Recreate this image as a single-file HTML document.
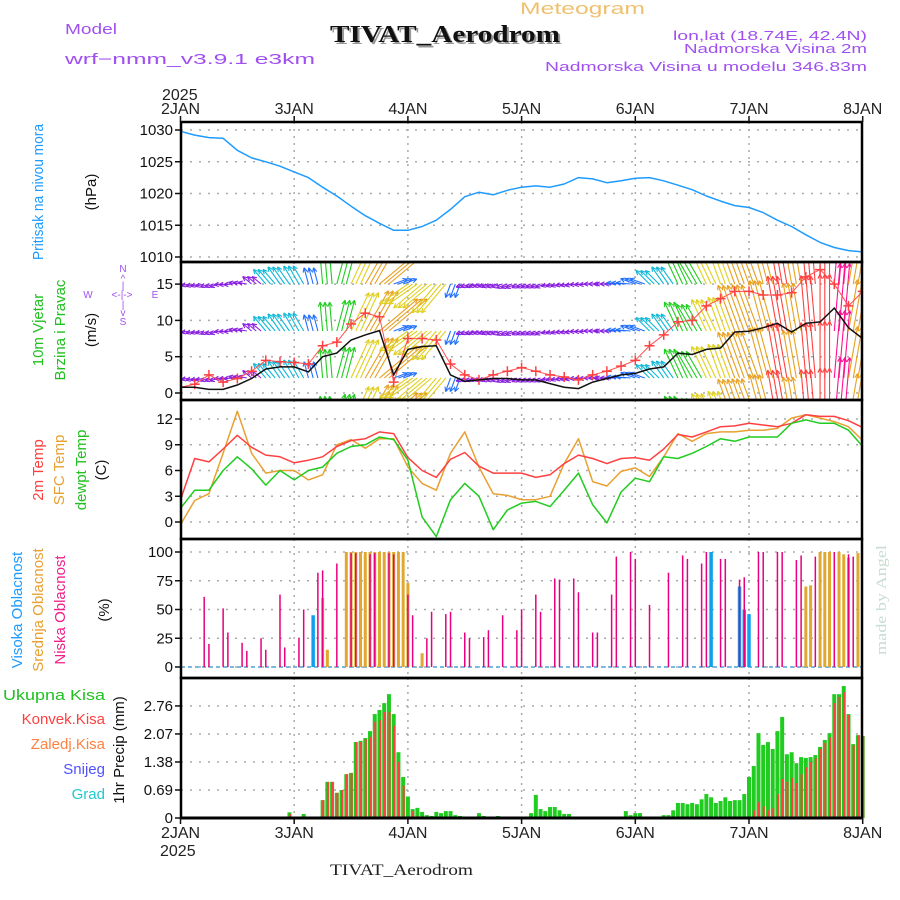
<!DOCTYPE html>
<html><head><meta charset="utf-8"><title>Meteogram TIVAT_Aerodrom</title>
<style>
html,body{margin:0;padding:0;background:#fff;}
svg{display:block;font-family:"Liberation Sans",sans-serif;}
.tk{font-size:15px;fill:#111;}
.tl{font-size:15px;}
</style></head>
<body>
<svg id="chart" width="900" height="900" viewBox="0 0 900 900" xmlns="http://www.w3.org/2000/svg">
<defs>
<clipPath id="clipP2"><rect x="181" y="262" width="681" height="138"/></clipPath>
</defs>
<rect x="0" y="0" width="900" height="900" fill="#fff"/>
<text x="520" y="14" font-size="17" fill="#f0c070" textLength="125" lengthAdjust="spacingAndGlyphs">Meteogram</text>
<text x="332" y="44" font-family="Liberation Serif, serif" font-weight="bold" font-size="24" fill="#999" textLength="230" lengthAdjust="spacingAndGlyphs">TIVAT_Aerodrom</text>
<text x="330" y="42" font-family="Liberation Serif, serif" font-weight="bold" font-size="24" fill="#111" textLength="230" lengthAdjust="spacingAndGlyphs">TIVAT_Aerodrom</text>
<text x="65" y="34" font-size="15" fill="#a050f0" textLength="52" lengthAdjust="spacingAndGlyphs">Model</text>
<text x="65" y="64" font-size="15" fill="#a050f0" textLength="250" lengthAdjust="spacingAndGlyphs">wrf−nmm_v3.9.1  e3km</text>
<text x="867" y="40" font-size="13" fill="#a050f0" text-anchor="end" textLength="194" lengthAdjust="spacingAndGlyphs">lon,lat (18.74E, 42.4N)</text>
<text x="867" y="53" font-size="13" fill="#a050f0" text-anchor="end" textLength="183" lengthAdjust="spacingAndGlyphs">Nadmorska Visina 2m</text>
<text x="867" y="71" font-size="13" fill="#a050f0" text-anchor="end" textLength="322" lengthAdjust="spacingAndGlyphs">Nadmorska Visina u modelu 346.83m</text>
<text x="330" y="875" font-family="Liberation Serif, serif" font-size="16" fill="#222" textLength="143" lengthAdjust="spacingAndGlyphs">TIVAT_Aerodrom</text>
<text transform="translate(886,655) rotate(-90)" font-family="Liberation Serif, serif" font-size="15" fill="#c8dcd0" textLength="110" lengthAdjust="spacingAndGlyphs">made by Angel</text>

<text transform="translate(43,192) rotate(-90)" text-anchor="middle" class="tl" fill="#1e9bff" textLength="136" lengthAdjust="spacingAndGlyphs">Pritisak na nivou mora</text>
<text transform="translate(96,192) rotate(-90)" text-anchor="middle" class="tl" fill="#111">(hPa)</text>
<text transform="translate(43,330) rotate(-90)" text-anchor="middle" class="tl" fill="#20c020">10m Vjetar</text>
<text transform="translate(65,330) rotate(-90)" text-anchor="middle" class="tl" fill="#20c020">Brzina i Pravac</text>
<text transform="translate(96,330) rotate(-90)" text-anchor="middle" class="tl" fill="#111">(m/s)</text>
<g font-size="10" fill="#a050f0" text-anchor="middle">
<text x="123" y="272">N</text><text x="123" y="282">^</text><text x="123" y="289">|</text>
<text x="88" y="298">W</text><text x="122" y="298">&lt;-|-&gt;</text><text x="155" y="298">E</text>
<text x="123" y="308">|</text><text x="123" y="316">v</text><text x="123" y="325">S</text>
</g>
<text transform="translate(43,470) rotate(-90)" text-anchor="middle" class="tl" fill="#ff4040">2m Temp</text>
<text transform="translate(64,470) rotate(-90)" text-anchor="middle" class="tl" fill="#e8a030">SFC Temp</text>
<text transform="translate(86,470) rotate(-90)" text-anchor="middle" class="tl" fill="#20c020">dewpt Temp</text>
<text transform="translate(106,470) rotate(-90)" text-anchor="middle" class="tl" fill="#111">(C)</text>
<text transform="translate(22,610) rotate(-90)" text-anchor="middle" class="tl" fill="#1e9bff">Visoka Oblacnost</text>
<text transform="translate(43,610) rotate(-90)" text-anchor="middle" class="tl" fill="#e8a030">Srednja Oblacnost</text>
<text transform="translate(65,610) rotate(-90)" text-anchor="middle" class="tl" fill="#f0208a">Niska Oblacnost</text>
<text transform="translate(109,610) rotate(-90)" text-anchor="middle" class="tl" fill="#111">(%)</text>
<g font-size="15" text-anchor="end">
<text x="105" y="700" fill="#20c020" textLength="102" lengthAdjust="spacingAndGlyphs">Ukupna  Kisa</text>
<text x="105" y="724" fill="#ff4040">Konvek.Kisa</text>
<text x="105" y="749" fill="#ff8040">Zaledj.Kisa</text>
<text x="105" y="774" fill="#5050ff">Snijeg</text>
<text x="105" y="799" fill="#20c8d0">Grad</text>
</g>
<text transform="translate(124,750) rotate(-90)" text-anchor="middle" class="tl" fill="#111">1hr Precip (mm)</text>
<text x="162" y="100" font-size="16" fill="#222">2025</text>
<text x="160" y="856" font-size="16" fill="#222">2025</text>
<g id="grid"></g>
<g id="marks"></g>
<g id="frames"></g>
</svg>
<script>
const hours = [0,3,6,9,12,15,18,21,24,27,30,33,36,39,42,45,48,51,54,57,60,63,66,69,72,75,78,81,84,87,90,93,96,99,102,105,108,111,114,117,120,123,126,129,132,135,138,141,144];
const pressure = [1029.8,1029.2,1028.8,1028.7,1026.8,1025.6,1025.0,1024.3,1023.4,1022.5,1021.0,1019.6,1018.0,1016.5,1015.3,1014.2,1014.2,1014.8,1015.8,1017.5,1019.5,1020.2,1019.8,1020.5,1021.0,1021.2,1021.0,1021.5,1022.5,1022.3,1021.7,1022.0,1022.4,1022.5,1022.0,1021.3,1020.6,1019.6,1018.8,1018.1,1017.8,1017.0,1015.8,1014.8,1013.5,1012.3,1011.5,1011.0,1010.8];
const windSpeed = [0.8,0.8,0.5,0.5,1.1,2.0,3.3,3.6,3.6,2.9,5.0,5.5,7.3,8.0,8.6,2.5,6.0,6.4,6.5,2.5,1.6,1.8,2.0,2.0,1.8,1.8,1.3,0.8,0.6,1.5,2.0,2.5,2.7,3.3,3.6,5.5,5.3,6.0,6.2,8.4,8.5,9.0,9.6,8.4,9.6,9.8,11.7,9.0,7.5];
const windGust = [0.8,1.2,2.5,1.5,2.0,3.0,4.5,4.3,4.2,4.0,6.5,7.0,9.5,11.0,10.5,1.5,7.5,7.5,7.3,4.0,2.5,1.8,2.5,3.0,3.5,3.0,2.5,2.2,1.8,2.5,3.0,3.7,4.5,6.5,8.0,9.8,10.0,12.0,13.0,14.0,14.0,13.5,13.5,13.8,16.0,17.0,15.0,12.0,14.0];
const windDir = [190,195,200,185,170,140,130,125,120,105,95,75,65,60,40,20,215,220,230,250,200,195,195,200,200,200,195,190,185,180,180,175,160,135,125,115,120,115,110,110,110,105,100,100,95,90,85,80,75];
const temp2m = [2.6,7.4,7.0,8.5,10.1,8.7,7.8,7.6,6.9,7.2,7.6,8.8,9.5,9.7,10.5,10.3,7.5,6.0,5.2,7.3,8.1,6.5,5.7,5.7,5.7,5.2,5.5,6.8,7.8,7.4,6.8,7.4,7.5,7.2,8.5,10.2,9.9,10.5,11.1,11.2,11.5,11.3,11.1,11.5,12.5,12.3,12.3,11.8,11.0];
const tempSfc = [-0.3,2.5,3.3,8.0,12.9,8.0,5.7,6.0,6.0,4.9,5.5,9.0,9.6,8.6,9.7,9.7,6.4,4.5,3.7,8.0,10.5,6.4,3.3,3.1,2.6,2.6,3.0,6.8,9.7,4.7,4.2,5.9,6.3,5.3,7.6,10.3,9.4,10.3,10.5,10.5,10.7,10.7,10.9,12.1,12.5,12.1,11.7,11.1,9.5];
const dewpt = [1.6,3.7,3.7,6.0,7.6,6.2,4.3,6.0,4.9,6.0,6.4,8.0,8.8,9.0,9.9,9.6,7.2,0.6,-1.7,2.6,4.5,3.0,-0.9,1.4,2.2,2.4,1.8,3.7,5.7,2.0,-0.1,3.5,5.1,4.7,7.6,7.4,8.0,8.8,9.7,9.4,9.9,9.9,9.9,11.5,11.9,11.5,11.5,10.7,8.8];
const lowCloudHours = [5,6,9,10,13,14,17,18,21,22,25,26,29,30,33,36,37,40,41,44,45,48,49,52,53,56,57,60,61,64,65,68,71,72,75,76,79,80,83,84,87,88,91,92,95,96,99,103,106,107,110,111,114,115,118,119,122,123,126,127,130,131,134,138,141,142];
const lowCloudVals = [61,20,51,30,21,14,25,15,63,17,25,50,82,84,90,99,99,98,99,99,98,63,45,25,48,46,48,30,25,26,32,45,32,50,63,48,77,76,77,65,30,30,63,96,100,94,54,82,97,94,90,100,94,94,76,78,100,100,100,100,93,97,96,100,98,96];
const midCloudHours = [30,31,35,36,37,38,39,40,41,42,43,44,45,46,47,48,51,132,133,135,136,137,139,140,141,143];
const midCloudVals = [60,15,100,100,100,100,100,100,100,100,100,100,100,100,100,73,12,70,71,100,100,100,100,98,95,99];
const highCloudHours = [28,112,118,119,120];
const highCloudVals = [45,100,70,50,46];
const precipHours = [23,26,30,31,32,33,34,35,36,37,38,39,40,41,42,43,44,45,46,47,48,49,50,51,52,53,54,55,56,57,58,59,63,64,67,74,75,76,77,78,79,80,81,82,94,95,96,97,102,103,104,105,106,107,108,109,110,111,112,113,114,115,116,117,118,119,120,121,122,123,124,125,126,127,128,129,130,131,132,133,134,135,136,137,138,139,140,141,142,143,144];
const precipTotal = [0.14,0.1,0.44,0.89,0.89,0.62,0.69,1.08,1.11,1.87,1.9,1.97,2.14,2.56,2.66,2.83,3.05,2.56,1.62,1.01,0.53,0.22,0.25,0.15,0.07,0.05,0.15,0.12,0.17,0.17,0.07,0.05,0.12,0.05,0.05,0.12,0.57,0.22,0.17,0.27,0.27,0.19,0.1,0.1,0.17,0.07,0.12,0.12,0.07,0.07,0.19,0.37,0.37,0.34,0.37,0.34,0.46,0.59,0.51,0.37,0.42,0.51,0.42,0.44,0.44,0.59,1.01,1.28,2.09,1.8,1.87,1.7,2.14,2.49,1.57,1.62,1.35,1.5,1.48,1.5,1.55,1.75,1.92,2.09,3.05,3.05,3.25,2.56,1.82,2.04,2.02];
const precipConv = [0.1,0,0.44,0.89,0.89,0.62,0.69,1.08,1.11,1.87,1.87,1.94,2.0,2.37,2.41,2.61,2.61,2.27,1.38,0.8,0,0.17,0.05,0,0,0,0,0,0,0,0,0,0,0,0,0,0,0,0,0,0,0,0,0,0,0,0,0,0,0,0,0,0,0,0,0,0,0,0,0,0,0,0,0,0,0,0,0.19,0.39,0.29,0.19,0.24,0.59,0.96,0.89,0.99,0.86,1.08,1.25,1.38,1.48,1.7,1.85,1.99,2.83,2.98,3.1,2.54,1.8,2.04,2.02];
const dayLabels = ["2JAN","3JAN","4JAN","5JAN","6JAN","7JAN","8JAN"];
const pTicks = [1010,1015,1020,1025,1030];
const wTicks = [0,5,10,15];
const tTicks = [0,3,6,9,12];
const cTicks = [0,25,50,75,100];
const rTicks = [0,0.69,1.38,2.07,2.76];

const X0 = 181, X1 = 862;
const xs = h => 180.5 + h * 113.7 / 24;
const yP = v => 130 + (1030 - v) * 6.35;
const yW = v => 393 - v * 7.26;
const yT = v => 522 - v * 8.583;
const yC = v => 667 - v * 1.15;
const yR = v => 818 - v * 40.6;
const panels = [[122,262,pTicks,yP,'pressure'],[262,400,wTicks,yW,'wind'],[400,539,tTicks,yT,'temp'],[539,678,cTicks,yC,'cloud'],[678,818,rTicks,yR,'precip']];

const NS = 'http://www.w3.org/2000/svg';
function mk(tag, attrs, parent){ const e=document.createElementNS(NS,tag); for(const k in attrs) e.setAttribute(k,attrs[k]); parent.appendChild(e); return e; }
const grid = document.getElementById('grid'), marks = document.getElementById('marks'), frames = document.getElementById('frames');

panels.forEach(([top,bot,ticks,ys,nm])=>{
  for(let d=1; d<6; d++){
    const l = mk('line',{x1:xs(d*24),x2:xs(d*24),y1:top,y2:bot,stroke:'#aaa','stroke-width':1.5,'stroke-dasharray':'2,5'},grid);
    
    
  }
  ticks.forEach(t=>{
    const y = ys(t);
    const g = mk('line',{x1:X0,x2:X1,y1:y,y2:y,stroke:'#aaa','stroke-width':1.5,'stroke-dasharray':'2,7'},grid);
    
    
    mk('line',{x1:X0-6,x2:X0,y1:y,y2:y,stroke:'#111','stroke-width':1.5},frames);
    const tx = mk('text',{x:X0-8,y:y+5,'text-anchor':'end',class:'tk'},frames);
    tx.textContent = String(t);
    
    
  });
  const r = mk('rect',{x:X0,y:top,width:X1-X0,height:bot-top,fill:'none',stroke:'#000','stroke-width':2.5},frames);
  
  
});
dayLabels.forEach((lb,i)=>{
  const x = xs(i*24);
  const t1 = mk('text',{x:x,y:114,'text-anchor':'middle','font-size':16,fill:'#222'},frames);
  t1.textContent = lb;
  
  
  const t2 = mk('text',{x:x,y:838,'text-anchor':'middle','font-size':16,fill:'#222'},frames);
  t2.textContent = lb;
  
  
  mk('line',{x1:x,x2:x,y1:818,y2:824,stroke:'#111','stroke-width':1.5},frames);
  mk('line',{x1:x,x2:x,y1:116,y2:122,stroke:'#111','stroke-width':1.5},frames);
});

function poly(vals, ys, color, name, w){
  const pts = hours.map((h,i)=> xs(h).toFixed(1)+','+ys(vals[i]).toFixed(1)).join(' ');
  const p = mk('polyline',{points:pts,fill:'none',stroke:color,'stroke-width':w||1.5,'stroke-linejoin':'round'},marks);
  
  
  return p;
}
poly(pressure, yP, '#1e9bff', 'pressure-line');

const windG = mk('g',{'clip-path':'url(#clipP2)'},marks);


function windColor(s){
  if(s<2.2) return '#8a20e0';
  if(s<3.2) return '#2070ff';
  if(s<4.5) return '#10b8d8';
  if(s<6) return '#20cc20';
  if(s<8) return '#e0d020';
  if(s<9.5) return '#e8a020';
  if(s<11) return '#ff4040';
  return '#ff1090';
}
const rows = [284,331,378,425];
hours.forEach((h,i)=>{
  const s = windSpeed[i], a = windDir[i]*Math.PI/180;
  const len = Math.max(9, s*5.8);
  const col = windColor(s);
  for(let k=0;k<3;k++){
    const hh = h + k; if(hh>144) break;
    rows.forEach(ry=>{
      const x1 = xs(hh), y1 = ry;
      const x2 = x1 + len*Math.cos(a), y2 = y1 - len*Math.sin(a);
      const g = mk('g',{stroke:col,'stroke-width':1.1,fill:'none'},windG);
      
      
      mk('line',{x1:x1,y1:y1,x2:x2,y2:y2},g);
      const hl = 5;
      [a+Math.PI-0.45, a+Math.PI+0.45].forEach(b=>{
        mk('line',{x1:x2,y1:y2,x2:x2+hl*Math.cos(b),y2:y2-hl*Math.sin(b)},g);
      });
    });
  }
});
const gl = mk('polyline',{points:hours.map((h,i)=>xs(h).toFixed(1)+','+yW(windGust[i]).toFixed(1)).join(' '),fill:'none',stroke:'#ff5050','stroke-width':1},windG);


hours.forEach((h,i)=>{
  const x=xs(h), y=yW(windGust[i]);
  const p = mk('path',{d:`M${x-5},${y}H${x+5}M${x},${y-5}V${y+5}`,stroke:'#ff4040','stroke-width':1.5},windG);
  
  
});
const sl = mk('polyline',{points:hours.map((h,i)=>xs(h).toFixed(1)+','+yW(windSpeed[i]).toFixed(1)).join(' '),fill:'none',stroke:'#111','stroke-width':1.5},windG);



poly(tempSfc, yT, '#e8a030', 'sfc-temp-line');
poly(temp2m, yT, '#ff4040', 'temp-2m-line');
poly(dewpt, yT, '#20cc20', 'dewpoint-line');

mk('line',{x1:X0,x2:X1,y1:yC(0),y2:yC(0),stroke:'#7ab8e0','stroke-width':2,'stroke-dasharray':'4,3'},marks);
function bars(hs, vs, ys, color, w, name, dx){
  hs.forEach((h,i)=>{
    if(vs[i]<=0) return;
    const x = xs(h)+(dx||0), y0 = ys(0), y1 = ys(vs[i]);
    const r = mk('rect',{x:x-w/2,y:y1,width:w,height:y0-y1,fill:color},marks);
    
    
  });
}
bars(midCloudHours, midCloudVals, yC, '#e0a830', 3, 'mid-cloud-bar');
bars(highCloudHours, highCloudVals, yC, '#10a0f0', 3.5, 'high-cloud-bar');
bars(lowCloudHours, lowCloudVals, yC, '#e8007f', 1.5, 'low-cloud-bar');

bars(precipHours, precipTotal, yR, '#20cc20', 4, 'total-precip-bar');
bars(precipHours, precipConv, yR, '#ff4040', 2, 'convective-precip-bar', 0.5);
mk('line',{x1:X0,x2:X1,y1:818,y2:818,stroke:'#000','stroke-width':3},frames);
</script>
</body></html>
